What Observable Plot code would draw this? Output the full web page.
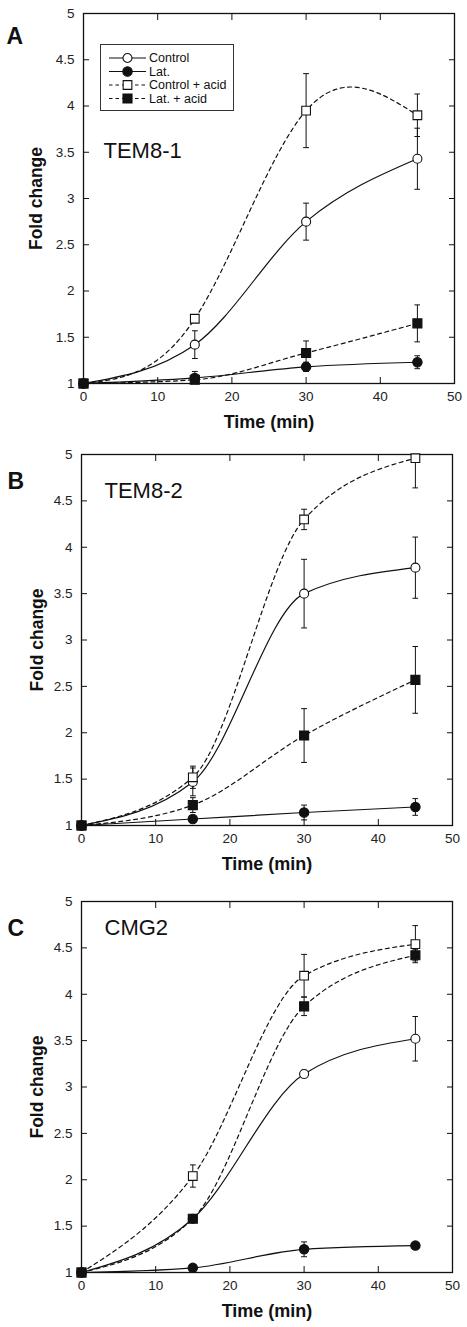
<!DOCTYPE html>
<html><head><meta charset="utf-8">
<script src="https://cdn.jsdelivr.net/npm/d3@7"></script>
<script src="https://cdn.jsdelivr.net/npm/@observablehq/plot@0.6"></script>
<style>
body{margin:0;background:#fff;}
#wrap{position:relative;width:467px;height:1327px;overflow:hidden;}
.panel{position:absolute;left:0;}
</style></head><body><div id="wrap"></div>
<script>
// ---------- data ----------
const times = [0, 15, 30, 45];
const xTicks = [0, 10, 20, 30, 40, 50];
const yTicks = [1, 1.5, 2, 2.5, 3, 3.5, 4, 4.5, 5];
const seriesNames = ["Control", "Lat.", "Control + acid", "Lat. + acid"];
const panelNames = ["TEM8-1", "TEM8-2", "CMG2"];
const panelLetters = ["A", "B", "C"];
const xLabel = "Time (min)";
const yLabel = "Fold change";

// Panel A: TEM8-1
const tem81Control = [1, 1.42, 2.75, 3.43];
const tem81ControlErr = [0, 0.15, 0.20, 0.33];
const tem81Lat = [1, 1.06, 1.18, 1.23];
const tem81LatErr = [0, 0.07, 0.05, 0.07];
const tem81ControlAcid = [1, 1.70, 3.95, 3.90];
const tem81ControlAcidErr = [0, 0.04, 0.40, 0.23];
const tem81LatAcid = [1, 1.04, 1.33, 1.65];
const tem81LatAcidErr = [0, 0.04, 0.13, 0.20];

// Panel B: TEM8-2
const tem82Control = [1, 1.47, 3.50, 3.78];
const tem82ControlErr = [0, 0.15, 0.37, 0.33];
const tem82Lat = [1, 1.07, 1.14, 1.20];
const tem82LatErr = [0, 0.02, 0.08, 0.09];
const tem82ControlAcid = [1, 1.52, 4.30, 4.96];
const tem82ControlAcidErr = [0, 0.12, 0.11, 0.32];
const tem82LatAcid = [1, 1.22, 1.97, 2.57];
const tem82LatAcidErr = [0, 0.08, 0.29, 0.36];

// Panel C: CMG2
const cmg2Control = [1, 1.58, 3.14, 3.52];
const cmg2ControlErr = [0, 0.03, 0.04, 0.24];
const cmg2Lat = [1, 1.05, 1.25, 1.29];
const cmg2LatErr = [0, 0.02, 0.08, 0.02];
const cmg2ControlAcid = [1, 2.04, 4.20, 4.54];
const cmg2ControlAcidErr = [0, 0.12, 0.23, 0.20];
const cmg2LatAcid = [1, 1.58, 3.87, 4.42];
const cmg2LatAcidErr = [0, 0.03, 0.10, 0.06];

// ---------- build tables ----------
function buildRows(vals, errs) {
  const rows = [];
  seriesNames.forEach((s, i) => {
    times.forEach((t, j) => rows.push({series: s, t, v: vals[i][j], e: errs[i][j]}));
  });
  return rows;
}
const panelData = [
  buildRows([tem81Control, tem81Lat, tem81ControlAcid, tem81LatAcid],
            [tem81ControlErr, tem81LatErr, tem81ControlAcidErr, tem81LatAcidErr]),
  buildRows([tem82Control, tem82Lat, tem82ControlAcid, tem82LatAcid],
            [tem82ControlErr, tem82LatErr, tem82ControlAcidErr, tem82LatAcidErr]),
  buildRows([cmg2Control, cmg2Lat, cmg2ControlAcid, cmg2LatAcid],
            [cmg2ControlErr, cmg2LatErr, cmg2ControlAcidErr, cmg2LatAcidErr])
];

const styles = {
  "Control":        {dash: null,  symbol: "circle", fill: "white", r: 4.5},
  "Lat.":           {dash: null,  symbol: "circle", fill: "#111",  r: 4.7},
  "Control + acid": {dash: "4,3.5", symbol: "square", fill: "white", r: 4.9},
  "Lat. + acid":    {dash: "4,3.5", symbol: "square", fill: "#111",  r: 5.1}
};
// smoothing used by the original plotting program (spline for the overshooting TEM8-1 acid curve)
function curveFor(p, s) { return (p === 0 && s === "Control + acid") ? "natural" : "monotone-x"; }

const layout = [
  {top: 0,   mt: 13, mb: 57, ml: 83, mr: 13, letterDx: -77, letterDy: 23, nameDx: 20, nameDy: 137, yDx: -47},
  {top: 440, mt: 14, mb: 55, ml: 81, mr: 15, letterDx: -74, letterDy: 27, nameDx: 23, nameDy: 36,  yDx: -44},
  {top: 887, mt: 14, mb: 55, ml: 81, mr: 15, letterDx: -74, letterDy: 27, nameDx: 23, nameDy: 26,  yDx: -44}
];

const FONT = "'Liberation Sans', Arial, Helvetica, sans-serif";
const wrap = document.getElementById("wrap");

panelData.forEach((rows, p) => {
  const L = layout[p];
  const marks = [];
  // inward ticks on all sides
  marks.push(Plot.axisX(xTicks, {anchor: "bottom", tickSize: -6, tickFormat: () => "", label: null, stroke: "#111"}));
  marks.push(Plot.axisX(xTicks, {anchor: "top", tickSize: -6, tickFormat: () => "", label: null, stroke: "#111"}));
  marks.push(Plot.axisY(yTicks, {anchor: "left", tickSize: -6, tickFormat: () => "", label: null, stroke: "#111"}));
  marks.push(Plot.axisY(yTicks, {anchor: "right", tickSize: -6, tickFormat: () => "", label: null, stroke: "#111"}));
  // tick labels
  marks.push(Plot.axisX(xTicks, {anchor: "bottom", tickSize: 0, tickPadding: 8, tickFormat: d => String(d), label: null, fontSize: 13.5, fill: "#222"}));
  marks.push(Plot.axisY(yTicks, {anchor: "left", tickSize: 0, tickPadding: 9, tickFormat: d => String(d), label: null, fontSize: 13.5, fill: "#222"}));
  marks.push(Plot.frame({stroke: "#111", strokeWidth: 1.3}));
  // lines
  seriesNames.forEach(s => {
    marks.push(Plot.line(rows.filter(d => d.series === s), {
      x: "t", y: "v", curve: curveFor(p, s), stroke: "#111", strokeWidth: 1.2,
      strokeDasharray: styles[s].dash
    }));
  });
  // error bars
  marks.push(Plot.link(rows.filter(d => d.e > 0), {
    x1: "t", x2: "t", y1: d => d.v - d.e, y2: d => d.v + d.e,
    marker: "tick", stroke: "#111", strokeWidth: 1, clip: true
  }));
  // markers
  seriesNames.forEach(s => {
    marks.push(Plot.dot(rows.filter(d => d.series === s), {
      x: "t", y: "v", symbol: styles[s].symbol, r: styles[s].r,
      fill: styles[s].fill, stroke: "#111", strokeWidth: 1.1
    }));
  });
  // axis titles
  marks.push(Plot.text([xLabel], {frameAnchor: "bottom", dy: 39, lineAnchor: "middle", fontWeight: "bold", fontSize: 18, fill: "#111"}));
  marks.push(Plot.text([yLabel], {frameAnchor: "left", dx: L.yDx, rotate: -90, lineAnchor: "middle", textAnchor: "middle", fontWeight: "bold", fontSize: 17.5, fill: "#111"}));
  // panel letter and name
  marks.push(Plot.text([panelLetters[p]], {frameAnchor: "top-left", dx: L.letterDx, dy: L.letterDy, textAnchor: "start", lineAnchor: "middle", fontWeight: "bold", fontSize: 23, fill: "#111"}));
  marks.push(Plot.text([panelNames[p]], {frameAnchor: "top-left", dx: L.nameDx, dy: L.nameDy, textAnchor: "start", lineAnchor: "middle", fontSize: 22, fill: "#111"}));

  const chart = Plot.plot({
    width: 467, height: 440,
    marginTop: L.mt, marginBottom: L.mb, marginLeft: L.ml, marginRight: L.mr,
    x: {domain: [0, 50]},
    y: {domain: [1, 5]},
    style: {fontFamily: FONT, background: "white", overflow: "visible", color: "#111"},
    marks
  });
  const div = document.createElement("div");
  div.className = "panel";
  div.style.top = L.top + "px";
  div.appendChild(chart);
  wrap.appendChild(div);

  if (p === 0) {
    // legend box inside panel A
    const svg = d3.select(chart.tagName.toLowerCase() === "svg" ? chart : chart.querySelector("svg"));
    const g = svg.append("g").attr("font-family", FONT).attr("font-size", 12.5).attr("text-anchor", "start");
    g.append("rect").attr("x", 100.5).attr("y", 44.5).attr("width", 133).attr("height", 66)
      .attr("fill", "white").attr("stroke", "#333").attr("stroke-width", 1);
    seriesNames.forEach((s, i) => {
      const cy = 58 + i * 13.5;
      const st = styles[s];
      g.append("line").attr("x1", 109).attr("x2", 146).attr("y1", cy).attr("y2", cy)
        .attr("stroke", "#111").attr("stroke-width", 1.1)
        .attr("stroke-dasharray", st.dash ? "3.5,3" : null);
      const sym = d3.symbol(st.symbol === "circle" ? d3.symbolCircle : d3.symbolSquare, Math.PI * st.r * st.r)();
      g.append("path").attr("d", sym).attr("transform", `translate(127.5,${cy})`)
        .attr("fill", st.fill).attr("stroke", "#111").attr("stroke-width", 1.1);
      g.append("text").attr("x", 149).attr("y", cy).attr("dy", "0.35em").attr("fill", "#111").attr("text-anchor", "start").text(s);
    });
  }
});
</script>
</body></html>
